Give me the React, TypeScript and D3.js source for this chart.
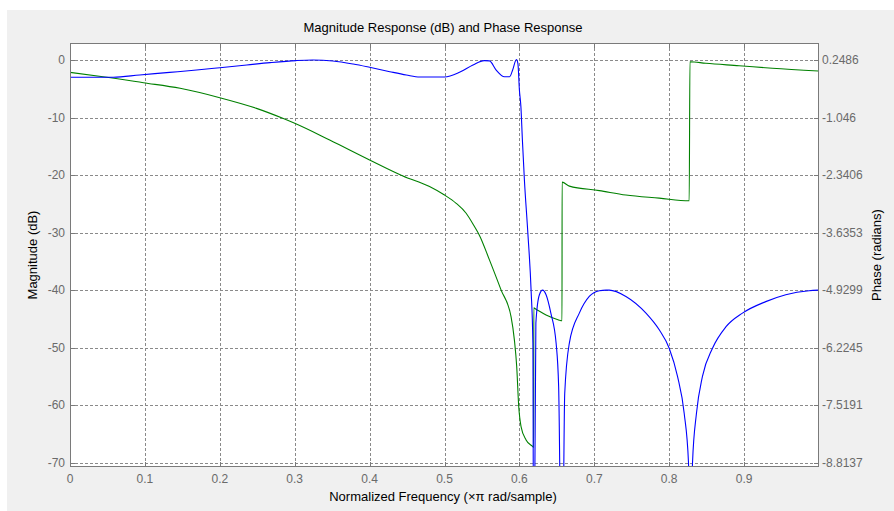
import * as d3 from 'd3';

// magnitude response (blue)
const magFreq = [0, 0.058, 0.093, 0.133, 0.169, 0.2, 0.236, 0.267, 0.302, 0.324, 0.351, 0.378, 0.4, 0.427, 0.449, 0.467, 0.5, 0.52, 0.538, 0.553, 0.56, 0.569, 0.58, 0.587, 0.591, 0.596, 0.598, 0.6, 0.602, 0.604, 0.6067, 0.611, 0.6156, 0.618, 0.6191, 0.622, 0.6267, 0.631, 0.6356, 0.642, 0.649, 0.6524, 0.6569, 0.6605, 0.6667, 0.68, 0.6933, 0.7067, 0.7156, 0.72, 0.7422, 0.769, 0.7867, 0.8, 0.8111, 0.82, 0.8258, 0.8276, 0.8311, 0.8364, 0.8444, 0.8578, 0.8756, 0.8978, 0.9289, 0.9556, 0.9867, 0.999];
const magDb = [-3.0, -3.0, -2.6, -2.15, -1.74, -1.34, -0.87, -0.46, -0.1, 0, -0.17, -0.7, -1.27, -2.03, -2.6, -2.95, -2.95, -2.15, -0.87, -0.1, -0.15, -1.74, -2.9, -2.9, -1.74, 0.1, -0.6, -5.2, -8.1, -13.9, -20.9, -29.5, -40, -49.2, -100, -45.7, -40.8, -40, -40.8, -44, -49.2, -56.8, -100, -58, -49.2, -44, -41.1, -40.1, -40, -40, -41.1, -44, -46.9, -50.1, -55, -61.4, -70.1, -100, -70.1, -61.4, -55, -50.1, -46.4, -44, -42, -40.8, -40.1, -40];

// phase response (green), radians
const phaseFreq = [0, 0.044, 0.098, 0.147, 0.2, 0.249, 0.284, 0.3, 0.3467, 0.4, 0.4444, 0.48, 0.5, 0.5156, 0.5289, 0.54, 0.5467, 0.56, 0.5756, 0.5889, 0.5933, 0.5964, 0.5991, 0.6022, 0.6089, 0.6178, 0.6191, 0.6192, 0.6222, 0.6356, 0.6524, 0.6569, 0.657, 0.6667, 0.7067, 0.7422, 0.7867, 0.8267, 0.8277, 0.8489, 0.8933, 0.9378, 0.999];
const phaseRad = [-0.03, -0.127, -0.262, -0.388, -0.6, -0.84, -1.063, -1.176, -1.552, -2.0, -2.36, -2.6, -2.79, -2.976, -3.2, -3.5, -3.7, -4.25, -4.93, -5.53, -6.05, -6.65, -7.55, -8.0, -8.3, -8.45, -8.47, -5.33, -5.36, -5.49, -5.6, -5.62, -2.5, -2.59, -2.69, -2.79, -2.86, -2.92, 0.21, 0.174, 0.12, 0.062, 0.001];

const xTicks = [0, 0.1, 0.2, 0.3, 0.4, 0.5, 0.6, 0.7, 0.8, 0.9];
const dbTicks = [0, -10, -20, -30, -40, -50, -60, -70];
const phaseTicks = [0.2486, -1.046, -2.3406, -3.6353, -4.9299, -6.2245, -7.5191, -8.8137];

const W = 894;
const H = 511;
const m = { left: 70, right: 819, top: 43, bottom: 467 };
const font = '"Liberation Sans", Arial, Helvetica, sans-serif';
const tickCol = '#6a6a6a';
const gridCol = '#8a8a8a';
const boxCol = '#7a7a7a';

export default function App() {
  const x = d3.scaleLinear().domain([0, 1]).range([m.left, m.right]);
  const yDb = d3.scaleLinear().domain([-70.745, 2.955]).range([m.bottom, m.top]);
  const yPh = d3.scaleLinear().domain([-8.91, 0.631]).range([m.bottom, m.top]);

  const magLine = d3.line<number>()
    .x((_, i) => x(magFreq[i]))
    .y(d => yDb(d))
    .curve(d3.curveMonotoneX);
  const phaseLine = d3.line<number>()
    .x((_, i) => x(phaseFreq[i]))
    .y(d => yPh(d))
    .curve(d3.curveMonotoneX);

  const tickFmt = (v: number) => `${v}`;

  return (
    <svg width={W} height={H} style={{ position: 'absolute', left: 0, top: 0 }} fontFamily={font}>
      <rect x={0} y={0} width={W} height={H} fill="#ffffff" />
      <rect x={7} y={10} width={W - 7} height={H - 10} fill="#f0f0f0" />
      <rect x={m.left} y={m.top} width={m.right - m.left} height={m.bottom - m.top} fill="#ffffff" />

      <defs>
        <clipPath id="plotClip">
          <rect x={m.left} y={m.top} width={m.right - m.left} height={m.bottom - m.top} />
        </clipPath>
      </defs>

      {/* grid */}
      <g stroke={gridCol} strokeWidth={1} strokeDasharray="3,2">
        {xTicks.filter(t => t > 0).map(t => (
          <line key={'gx' + t} x1={Math.round(x(t)) + 0.5} x2={Math.round(x(t)) + 0.5} y1={m.top} y2={m.bottom} />
        ))}
        {dbTicks.map(t => (
          <line key={'gy' + t} x1={m.left} x2={m.right} y1={Math.round(yDb(t)) + 0.5} y2={Math.round(yDb(t)) + 0.5} />
        ))}
      </g>

      {/* tick marks */}
      <g stroke={boxCol} strokeWidth={1}>
        {xTicks.map(t => (
          <g key={'tx' + t}>
            <line x1={Math.round(x(t)) + 0.5} x2={Math.round(x(t)) + 0.5} y1={m.bottom} y2={m.bottom - 5} />
            <line x1={Math.round(x(t)) + 0.5} x2={Math.round(x(t)) + 0.5} y1={m.top} y2={m.top + 5} />
          </g>
        ))}
        {dbTicks.map(t => (
          <line key={'ty' + t} x1={m.left} x2={m.left + 5} y1={Math.round(yDb(t)) + 0.5} y2={Math.round(yDb(t)) + 0.5} />
        ))}
        {phaseTicks.map(t => (
          <line key={'tp' + t} x1={m.right - 5} x2={m.right} y1={Math.round(yPh(t)) + 0.5} y2={Math.round(yPh(t)) + 0.5} />
        ))}
      </g>

      {/* curves */}
      <g clipPath="url(#plotClip)" fill="none" strokeWidth={1.1}>
        <path d={phaseLine(phaseRad) || ''} stroke="#008000" />
        <path d={magLine(magDb) || ''} stroke="#0000ff" />
      </g>

      {/* box */}
      <rect x={m.left + 0.5} y={m.top + 0.5} width={m.right - m.left - 1} height={m.bottom - m.top - 1} fill="none" stroke={boxCol} strokeWidth={1} />

      {/* tick labels */}
      <g fontSize={12} fill={tickCol}>
        {xTicks.map(t => (
          <text key={'lx' + t} x={x(t)} y={m.bottom + 16} textAnchor="middle">{tickFmt(t)}</text>
        ))}
        {dbTicks.map(t => (
          <text key={'ly' + t} x={m.left - 5} y={yDb(t)} dy="0.35em" textAnchor="end">{tickFmt(t)}</text>
        ))}
        {phaseTicks.map(t => (
          <text key={'lp' + t} x={m.right + 3} y={yPh(t)} dy="0.35em" textAnchor="start">{tickFmt(t)}</text>
        ))}
      </g>

      {/* labels */}
      <g fontSize={13} fill="#000000">
        <text x={443} y={32} textAnchor="middle">Magnitude Response (dB) and Phase Response</text>
        <text x={443} y={501} textAnchor="middle">Normalized Frequency (×π rad/sample)</text>
        <text transform={`translate(37,${(m.top + m.bottom) / 2}) rotate(-90)`} textAnchor="middle">Magnitude (dB)</text>
        <text transform={`translate(881,${(m.top + m.bottom) / 2}) rotate(-90)`} textAnchor="middle">Phase (radians)</text>
      </g>
    </svg>
  );
}
